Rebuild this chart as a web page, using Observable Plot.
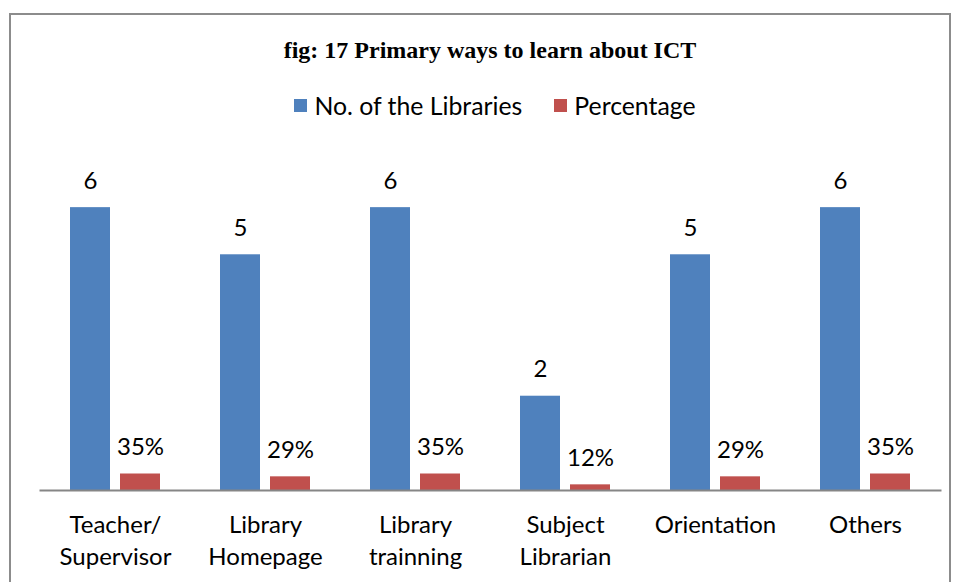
<!DOCTYPE html>
<html>
<head>
<meta charset="utf-8">
<script src="https://cdn.jsdelivr.net/npm/d3@7"></script>
<script src="https://cdn.jsdelivr.net/npm/@observablehq/plot@0.6"></script>
<style>
  html, body { margin: 0; padding: 0; background: #fff; width: 956px; height: 582px; overflow: hidden; }
  body { position: relative; font-family: Lato, "Open Sans", sans-serif; }
  .frame { position: absolute; left: 9px; top: 13px; width: 942px; height: 700px; border: 2px solid #8c8c8c; box-sizing: border-box; }
  .title { position: absolute; left: 0; width: 980px; top: 37px; text-align: center; font-family: "Liberation Serif", "Times New Roman", serif; font-weight: bold; font-size: 24px; color: #000; }
  .legend { position: absolute; left: 0; width: 990px; top: 88px; text-align: center; font-size: 24.8px; color: #000; white-space: nowrap; }
  .legend span.item { display: inline-flex; align-items: center; margin: 0 16px; }
  .legend span.sw { display: inline-block; width: 13px; height: 13px; margin-right: 7px; }
  #chart { position: absolute; left: 0; top: 130px; }
</style>
</head>
<body>
<div class="frame"></div>
<div class="title" id="title"></div>
<div class="legend" id="legend"></div>
<div id="chart"></div>
<script>
const titleText = "fig: 17 Primary ways to learn about ICT";
const categories = ["Teacher/\nSupervisor", "Library\nHomepage", "Library\ntrainning", "Subject\nLibrarian", "Orientation", "Others"];
const seriesNames = ["No. of the Libraries", "Percentage"];
const seriesColors = ["#4F81BD", "#C0504D"];
const libraries = [6, 5, 6, 2, 5, 6];
const percentages = [35, 29, 35, 12, 29, 35];

document.getElementById("title").textContent = titleText;
const legend = document.getElementById("legend");
seriesNames.forEach((name, i) => {
  const item = document.createElement("span");
  item.className = "item";
  const sw = document.createElement("span");
  sw.className = "sw";
  sw.style.background = seriesColors[i];
  item.appendChild(sw);
  item.appendChild(document.createTextNode(name));
  legend.appendChild(item);
});

const rows = [];
categories.forEach((c, i) => {
  rows.push({cat: c, series: seriesNames[0], value: libraries[i], label: String(libraries[i])});
  rows.push({cat: c, series: seriesNames[1], value: percentages[i] / 100, label: percentages[i] + "%"});
});

const chart = Plot.plot({
  width: 956,
  height: 450,
  marginTop: 30,
  marginBottom: 90,
  marginLeft: 40,
  marginRight: 16,
  style: {fontFamily: "Lato, 'Open Sans', sans-serif", background: "transparent"},
  fx: {domain: categories, paddingInner: 1/3, paddingOuter: 1/6, label: null, axis: null},
  x: {domain: seriesNames, paddingInner: 0.2, paddingOuter: 0.1, axis: null},
  y: {domain: [0, 7], axis: null},
  color: {domain: seriesNames, range: seriesColors},
  marks: [
    Plot.barY(rows, {fx: "cat", x: "series", y: "value", fill: "series"}),
    Plot.text(rows, {fx: "cat", x: "series", y: "value", text: "label", lineAnchor: "bottom", dy: -19, fontSize: 24, fill: "#000"}),
    Plot.frame({anchor: "bottom", facet: "super", stroke: "#868686", strokeWidth: 2, insetLeft: -25, insetRight: -25}),
    Plot.axisFx({anchor: "bottom", tickSize: 0, tickPadding: 19, fontSize: 24, lineHeight: 1.35, fill: "#000", label: null})
  ]
});
document.getElementById("chart").appendChild(chart);
</script>
</body>
</html>
